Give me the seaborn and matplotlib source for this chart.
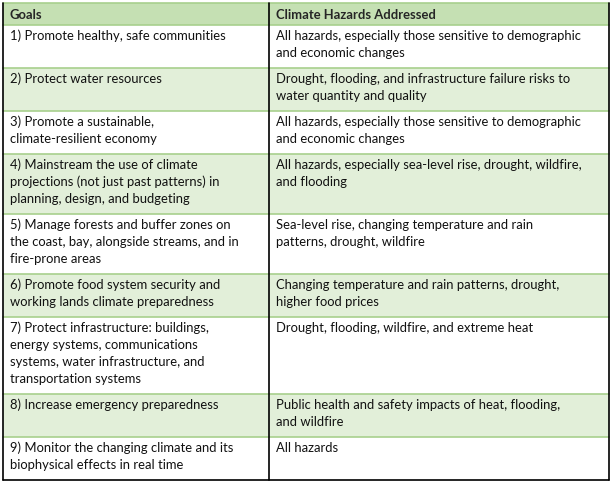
import matplotlib
matplotlib.use("Agg")
import matplotlib.pyplot as plt
import seaborn as sns
from matplotlib.patches import Rectangle

# table content, line breaks as in the source
headers = ["Goals", "Climate Hazards Addressed"]
goals = [
    "1) Promote healthy, safe communities",
    "2) Protect water resources",
    "3) Promote a sustainable,\nclimate-resilient economy",
    "4) Mainstream the use of climate\nprojections (not just past patterns) in\nplanning, design, and budgeting",
    "5) Manage forests and buffer zones on\nthe coast, bay, alongside streams, and in\nfire-prone areas",
    "6) Promote food system security and\nworking lands climate preparedness",
    "7) Protect infrastructure: buildings,\nenergy systems, communications\nsystems, water infrastructure, and\ntransportation systems",
    "8) Increase emergency preparedness",
    "9) Monitor the changing climate and its\nbiophysical effects in real time",
]
hazards = [
    "All hazards, especially those sensitive to demographic\nand economic changes",
    "Drought, flooding, and infrastructure failure risks to\nwater quantity and quality",
    "All hazards, especially those sensitive to demographic\nand economic changes",
    "All hazards, especially sea-level rise, drought, wildfire,\nand flooding",
    "Sea-level rise, changing temperature and rain\npatterns, drought, wildfire",
    "Changing temperature and rain patterns, drought,\nhigher food prices",
    "Drought, flooding, wildfire, and extreme heat",
    "Public health and safety impacts of heat, flooding,\nand wildfire",
    "All hazards",
]

sns.set_style("white")
plt.rcParams["font.family"] = ["Lato", "DejaVu Sans"]

head_fill = "#c5e0b3"
band_fill = "#e2efd9"
rule_col = "#a8d08d"

fig = plt.figure(figsize=(6.14, 4.83), dpi=100)
ax = fig.add_axes([0, 0, 1, 1])
ax.set_xlim(0, 614)
ax.set_ylim(483, 0)
ax.axis("off")

left, mid, right = 3, 269, 609
top, head_h = 3, 22
line_h, pad = 17, 9
first = 11
fs = 9.4


def cell(x, y0, txt, **kw):
    for k, ln in enumerate(txt.split("\n")):
        ax.text(x, y0 + first + k * line_h, ln, fontsize=fs, va="center",
                color="#111111", **kw)


# header
ax.add_patch(Rectangle((left, top), right - left, head_h, color=head_fill, lw=0))
ax.text(left + 7, top + head_h / 2 + 1, headers[0], fontsize=fs, weight="bold", va="center")
ax.text(mid + 7, top + head_h / 2 + 1, headers[1], fontsize=fs, weight="bold", va="center")

y = top + head_h
rules = [top, y]
for i, (g, h) in enumerate(zip(goals, hazards)):
    n = max(g.count("\n"), h.count("\n")) + 1
    rh = n * line_h + pad
    if i % 2 == 1:
        ax.add_patch(Rectangle((left, y), right - left, rh, color=band_fill, lw=0))
    cell(left + 7, y, g)
    cell(mid + 7, y, h)
    y += rh
    rules.append(y)

for r in rules[:-1]:
    ax.plot([left, right], [r, r], color=rule_col, lw=1.2)
ax.plot([left, left], [top, y], color="black", lw=1.2)
ax.plot([right, right], [top, y], color="black", lw=1.2)
ax.plot([mid, mid], [top, y], color="black", lw=1.2)
ax.plot([left, right], [y, y], color="black", lw=1.2)

fig.savefig("out.png", dpi=100)
